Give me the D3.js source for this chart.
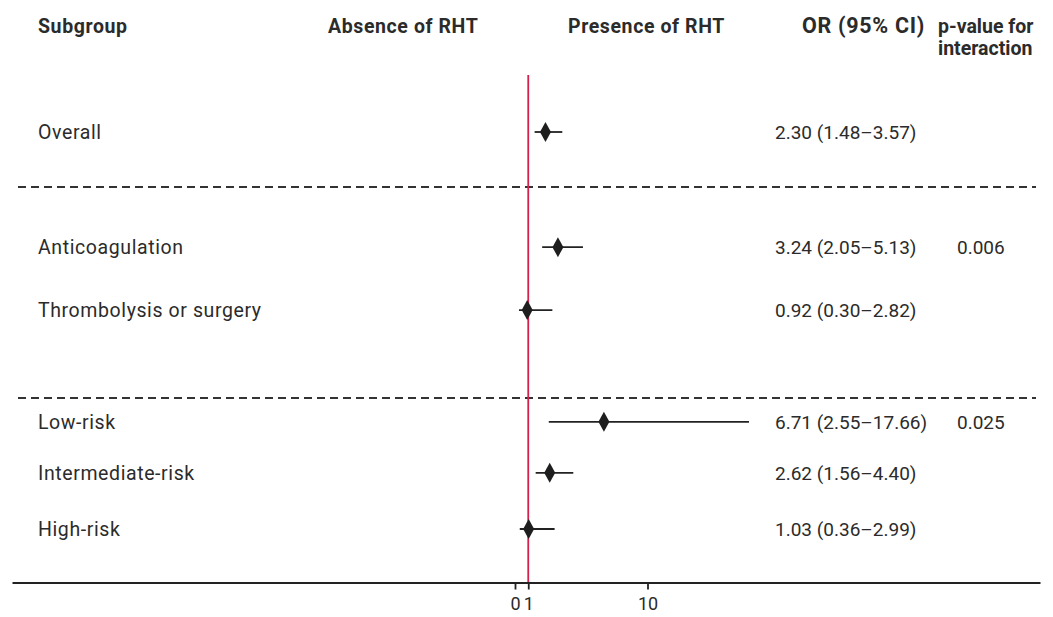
<!DOCTYPE html>
<html>
<head>
<meta charset="utf-8">
<script src="https://cdn.jsdelivr.net/npm/d3@7/dist/d3.min.js"></script>
<style>
  html, body { margin: 0; padding: 0; background: #fff; }
  svg { display: block; }
  text { font-family: Roboto, "Noto Sans", sans-serif; fill: #2b2b2b; }
</style>
</head>
<body>
<svg id="chart" width="1053" height="617"></svg>
<script>
// ---- data ----
const subgroups = ["Overall", "Anticoagulation", "Thrombolysis or surgery", "Low-risk", "Intermediate-risk", "High-risk"];
const orValues  = [2.30, 3.24, 0.92, 6.71, 2.62, 1.03];
const ciLower   = [1.48, 2.05, 0.30, 2.55, 1.56, 0.36];
const ciUpper   = [3.57, 5.13, 2.82, 17.66, 4.40, 2.99];
const orLabels  = ["2.30 (1.48–3.57)", "3.24 (2.05–5.13)", "0.92 (0.30–2.82)", "6.71 (2.55–17.66)", "2.62 (1.56–4.40)", "1.03 (0.36–2.99)"];
const pValues   = ["", "0.006", "", "0.025", "", ""];
const xTicks    = [0, 1, 10];
const headers   = ["Subgroup", "Absence of RHT", "Presence of RHT", "OR (95% CI)", "p-value for", "interaction"];

// ---- layout ----
const svg = d3.select("#chart");
const rowSlot = [0, 2.03, 3.14, 5.11, 6.01, 7.0];
const dashSlot = [0.97, 4.69];
const y = d3.scaleLinear().domain([0, 7]).range([132, 529]);

const xBase = d3.scaleLinear().domain([0, 10]).range([515, 647.5]);
const x = d3.scaleLinear().domain([xBase.invert(12), xBase.invert(1040)]).range([12, 1040]);
const axisY = 582.5;

// headers
const hdr = svg.append("g").attr("font-weight", "bold").attr("font-size", 19.5).attr("letter-spacing", 0.6);
hdr.append("text").attr("x", 38).attr("y", 33).text(headers[0]);
hdr.append("text").attr("x", 328).attr("y", 33).text(headers[1]);
hdr.append("text").attr("x", 568).attr("y", 33).text(headers[2]);
hdr.append("text").attr("x", 925).attr("y", 33).attr("text-anchor", "end")
  .attr("font-size", 21.5).attr("letter-spacing", 0.7).text(headers[3]);
hdr.append("text").attr("x", 938).attr("y", 33).attr("letter-spacing", 0).text(headers[4]);
hdr.append("text").attr("x", 938).attr("y", 55).attr("letter-spacing", 0).text(headers[5]);

// dashed separators
svg.selectAll("line.sep").data(dashSlot).join("line")
  .attr("class", "sep")
  .attr("x1", 18).attr("x2", 1036)
  .attr("y1", d => y(d)).attr("y2", d => y(d))
  .attr("stroke", "#333").attr("stroke-width", 1.8)
  .attr("stroke-dasharray", "8,5");

// reference line at OR = 1
svg.append("line")
  .attr("x1", x(1)).attr("x2", x(1))
  .attr("y1", 75).attr("y2", axisY)
  .attr("stroke", "#d6204d").attr("stroke-width", 1.8);

// axis
const axis = svg.append("g")
  .attr("transform", `translate(0,${axisY})`)
  .call(d3.axisBottom(x).tickValues(xTicks).tickFormat(d3.format("d")).tickSize(7).tickSizeOuter(0).tickPadding(8));
axis.select(".domain").attr("stroke", "#222").attr("stroke-width", 1.8);
axis.selectAll(".tick line").attr("stroke", "#222").attr("stroke-width", 1.8);
axis.selectAll(".tick text").attr("font-size", 18).attr("fill", "#333")
  .attr("font-family", "Roboto, sans-serif");

// rows
const rows = svg.selectAll("g.row").data(subgroups).join("g")
  .attr("class", "row")
  .attr("transform", (d, i) => `translate(0,${y(rowSlot[i])})`);

rows.append("text").attr("x", 38).attr("dy", "0.36em").attr("font-size", 19.5)
  .attr("letter-spacing", 0.6).text(d => d);

rows.append("line")
  .attr("x1", (d, i) => x(ciLower[i])).attr("x2", (d, i) => x(ciUpper[i]))
  .attr("stroke", "#222").attr("stroke-width", 1.8);

rows.append("path")
  .attr("d", (d, i) => {
    const cx = x(orValues[i]);
    return `M${cx - 5.5},0L${cx},-10L${cx + 5.5},0L${cx},10Z`;
  })
  .attr("fill", "#1e1e1e");

rows.append("text").attr("x", 775).attr("dy", "0.36em").attr("font-size", 19).text((d, i) => orLabels[i]);
rows.append("text").attr("x", 957).attr("dy", "0.36em").attr("font-size", 19).text((d, i) => pValues[i]);
</script>
</body>
</html>
